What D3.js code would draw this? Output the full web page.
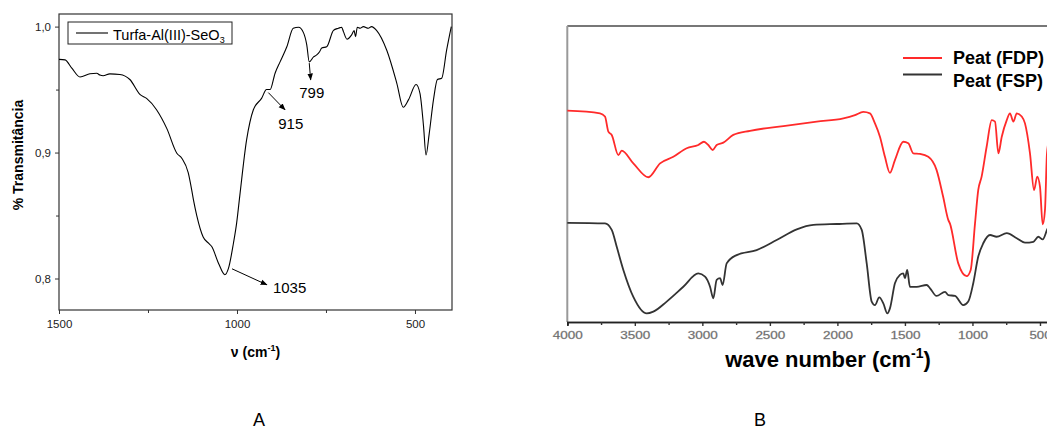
<!DOCTYPE html>
<html>
<head>
<meta charset="utf-8">
<script src="https://cdn.jsdelivr.net/npm/d3@7"></script>
<style>
  body { margin: 0; background: #fff; }
  svg { display: block; font-family: "Liberation Sans", Arial, sans-serif; }
</style>
</head>
<body>
<svg id="chart" width="1047" height="432"></svg>
<script>
// panel A : Turfa-Al(III)-SeO3
let wnA = [1500, 1483, 1464, 1441, 1413, 1394, 1385, 1376, 1357, 1329, 1301, 1272, 1254, 1226, 1197,
  1169, 1155, 1137, 1127, 1122, 1113, 1095, 1080, 1071, 1052, 1034, 1024, 1010, 1001, 992,
  973, 954, 931, 917, 907, 893, 879, 860, 842, 827, 813, 804, 797, 785, 776,
  768, 762, 748, 729, 715, 706, 701, 691, 678, 671, 667, 662, 654, 645, 631,
  622, 608, 579, 551, 533, 518, 497, 486, 476, 469, 460, 448, 437, 425, 411, 398];
let tA = [0.974, 0.9736, 0.967, 0.960, 0.9625, 0.963, 0.9615, 0.961, 0.9625, 0.962, 0.958, 0.946, 0.943, 0.934, 0.919,
  0.8995, 0.8955, 0.884, 0.870, 0.862, 0.850, 0.833, 0.828, 0.8254, 0.8122, 0.803, 0.808, 0.828, 0.844, 0.866,
  0.910, 0.934, 0.943, 0.950, 0.950, 0.963, 0.972, 0.984, 0.9987, 0.9995, 0.995, 0.9855, 0.972, 0.976, 0.9775,
  0.980, 0.983, 0.984, 0.997, 0.9987, 0.9995, 0.996, 0.990, 0.9934, 0.9968, 0.992, 0.9995, 0.9987, 1.0, 0.9987,
  1.0, 0.997, 0.981, 0.955, 0.936, 0.942, 0.954, 0.947, 0.921, 0.898, 0.915, 0.942, 0.958, 0.959, 0.9815, 1.0];
let xTicksA = [1500, 1000, 500];
let xMinorA = [1250, 750];
let yTicksA = [0.8, 0.9, 1.0];
let yMinorA = [0.85, 0.95];
let legendA = "Turfa-Al(III)-SeO";
// peak labels: arrow start, arrow end, text start (wavenumber, T)
let peaksA = [
  {label: "1035", from: [1014, 0.8077], to: [916, 0.795], text: [899, 0.7883]},
  {label: "915", from: [912, 0.9476], to: [865, 0.9339], text: [884, 0.9188]},
  {label: "799", from: [797, 0.971], to: [793, 0.9577], text: [825, 0.9434]}
];

// panel B : Peat FDP / FSP (arbitrary units)
let wnFDP = [4000, 3758, 3721, 3696, 3671, 3622, 3597, 3511, 3400, 3313, 3215, 3116, 3030, 2988, 2956,
  2923, 2894, 2845, 2771, 2647, 2400, 2153, 1956, 1870, 1808, 1759, 1722, 1685, 1648, 1611,
  1574, 1512, 1475, 1438, 1389, 1327, 1266, 1217, 1179, 1167, 1105, 1043, 1013, 981, 957,
  932, 895, 857, 833, 808, 783, 746, 722, 697, 672, 635, 611, 574, 544, 520,
  500, 480, 463, 448, 430];
let vFDP = [71.4, 70.5, 69.4, 64.3, 63.2, 56.4, 57.9, 53.6, 48.9, 53.6, 55.8, 58.7, 59.8, 60.9, 59.8,
  58.1, 59.8, 60.6, 63.2, 64.6, 66.2, 67.7, 68.8, 69.9, 71.0, 70.5, 67.1, 62.6, 55.8, 50.4,
  54.7, 60.9, 60.4, 57.0, 56.8, 55.8, 51.4, 42.3, 34.5, 33.3, 19.8, 15.5, 17.6, 33.3, 44.6,
  49.1, 59.2, 68.2, 67.7, 57.0, 62.6, 68.2, 70.5, 67.7, 70.5, 69.4, 67.1, 57.0, 44.6, 49.1,
  45.7, 33.0, 37.8, 57.0, 62.0];
let wnFSP = [4000, 3721, 3671, 3634, 3585, 3511, 3412, 3363, 3264, 3141, 3030, 2980, 2943, 2919, 2894,
  2869, 2850, 2820, 2746, 2598, 2450, 2301, 2178, 2005, 1857, 1820, 1783, 1746, 1722, 1690,
  1660, 1630, 1611, 1574, 1537, 1512, 1500, 1483, 1463, 1413, 1339, 1314, 1266, 1203, 1179,
  1129, 1068, 1031, 994, 957, 920, 870, 821, 746, 672, 611, 549, 512, 480, 448, 430];
let vFSP = [33.5, 33.3, 31.1, 25.4, 17.6, 8.5, 2.9, 3.5, 6.9, 11.9, 16.4, 15.3, 11.9, 8.0, 14.2,
  14.8, 12.5, 19.8, 22.6, 24.3, 27.7, 31.3, 32.8, 33.1, 33.3, 31.1, 19.8, 6.9, 5.7, 8.3,
  6.3, 2.9, 4.6, 13.1, 15.9, 16.4, 14.8, 17.6, 11.9, 11.9, 12.5, 11.4, 8.8, 10.2, 9.1,
  8.8, 5.7, 6.9, 13.1, 22.1, 26.6, 29.4, 28.8, 30.0, 28.3, 26.8, 27.1, 28.8, 27.9, 31.1, 33.0];
let xTicksB = [4000, 3500, 3000, 2500, 2000, 1500, 1000, 500];
let xMinorB = [3750, 3250, 2750, 2250, 1750, 1250, 750];
let seriesB = ["Peat (FDP)", "Peat (FSP)"];
let colorsB = ["#ff2a2a", "#333333"];

const svg = d3.select("svg#chart");

// arrow head
svg.append("defs").append("marker")
  .attr("id", "arrow")
  .attr("viewBox", "0 0 10 10")
  .attr("refX", 9).attr("refY", 5)
  .attr("markerWidth", 7).attr("markerHeight", 7)
  .attr("markerUnits", "userSpaceOnUse")
  .attr("orient", "auto")
  .append("path").attr("d", "M0,1 L10,5 L0,9 Z").attr("fill", "#000");

// ---------- A ----------
let xA = d3.scaleLinear().domain([1500, 396]).range([59, 452]);
let yA = d3.scaleLinear().domain([0.775, 1.01]).range([310, 14]);
let gA = svg.append("g");

gA.append("rect")
  .attr("x", xA.range()[0]).attr("y", yA.range()[1])
  .attr("width", xA.range()[1] - xA.range()[0])
  .attr("height", yA.range()[0] - yA.range()[1])
  .attr("fill", "none").attr("stroke", "#333").attr("stroke-width", 1.2);

gA.append("g").attr("transform", "translate(0," + yA.range()[0] + ")")
  .call(d3.axisBottom(xA).tickValues(xTicksA).tickSize(4).tickPadding(6).tickFormat(d3.format("d")));
gA.append("g").attr("transform", "translate(0," + yA.range()[0] + ")")
  .call(d3.axisBottom(xA).tickValues(xMinorA).tickSize(3).tickFormat(""));
gA.append("g").attr("transform", "translate(" + xA.range()[0] + ",0)")
  .call(d3.axisLeft(yA).tickValues(yTicksA).tickSize(4).tickPadding(4)
    .tickFormat(d => d3.format(".1f")(d).replace(".", ",")));
gA.append("g").attr("transform", "translate(" + xA.range()[0] + ",0)")
  .call(d3.axisLeft(yA).tickValues(yMinorA).tickSize(3).tickFormat(""));
gA.selectAll(".domain").remove();
gA.selectAll(".tick line").attr("stroke", "#333");
gA.selectAll(".tick text").attr("font-size", 11.5).attr("fill", "#222")
  .attr("font-family", "Liberation Sans, Arial, sans-serif");

gA.append("path")
  .datum(d3.zip(wnA, tA))
  .attr("fill", "none").attr("stroke", "#000").attr("stroke-width", 1.1)
  .attr("d", d3.line().x(d => xA(d[0])).y(d => yA(d[1])).curve(d3.curveMonotoneX));

gA.append("text")
  .attr("transform", "translate(23,155) rotate(-90)")
  .attr("text-anchor", "middle").attr("font-size", 14).attr("font-weight", "bold")
  .text("% Transmitância");

let xlabA = gA.append("text")
  .attr("x", (xA.range()[0] + xA.range()[1]) / 2).attr("y", 357)
  .attr("text-anchor", "middle").attr("font-size", 14).attr("font-weight", "bold");
xlabA.append("tspan").text("ν (cm");
xlabA.append("tspan").attr("font-size", 9).attr("dy", -6).text("-1");
xlabA.append("tspan").attr("dy", 6).text(")");

// legend A
gA.append("rect").attr("x", 68).attr("y", 22).attr("width", 164).attr("height", 22)
  .attr("fill", "#fff").attr("stroke", "#222").attr("stroke-width", 1);
gA.append("line").attr("x1", 76).attr("x2", 108).attr("y1", 33).attr("y2", 33)
  .attr("stroke", "#000").attr("stroke-width", 1.1);
let legTxt = gA.append("text").attr("x", 113).attr("y", 39.5).attr("font-size", 14.5);
legTxt.append("tspan").text(legendA);
legTxt.append("tspan").attr("font-size", 9).attr("dy", 3).text("3");

// peak labels
peaksA.forEach(p => {
  gA.append("line")
    .attr("x1", xA(p.from[0])).attr("y1", yA(p.from[1]))
    .attr("x2", xA(p.to[0])).attr("y2", yA(p.to[1]))
    .attr("stroke", "#000").attr("stroke-width", 1)
    .attr("marker-end", "url(#arrow)");
  gA.append("text")
    .attr("x", xA(p.text[0])).attr("y", yA(p.text[1]))
    .attr("font-size", 15).text(p.label);
});

// ---------- B ----------
let xB = d3.scaleLinear().domain([4000, 400]).range([567.3, 567.3 + 3600 * 0.13505]);
let yB = d3.scaleLinear().domain([0, 100]).range([322, 26]);
let gB = svg.append("g");

gB.append("line")
  .attr("x1", xB.range()[0]).attr("x2", 1047)
  .attr("y1", yB.range()[1]).attr("y2", yB.range()[1])
  .attr("stroke", "#777").attr("stroke-width", 2);
gB.append("line")
  .attr("x1", xB.range()[0]).attr("x2", xB.range()[0])
  .attr("y1", yB.range()[1]).attr("y2", yB.range()[0])
  .attr("stroke", "#999").attr("stroke-width", 2);

gB.append("g").attr("transform", "translate(0," + yB.range()[0] + ")")
  .call(d3.axisBottom(xB).tickValues(xTicksB).tickSize(4).tickPadding(6).tickFormat(d3.format("d")));
gB.append("g").attr("transform", "translate(0," + yB.range()[0] + ")")
  .call(d3.axisBottom(xB).tickValues(xMinorB).tickSize(3).tickFormat(""));
gB.selectAll(".domain").attr("stroke", "#222").attr("stroke-width", 1.6);
gB.selectAll(".tick line").attr("stroke", "#333").attr("stroke-width", 1.4);
gB.selectAll(".tick text")
  .attr("font-size", 10).attr("fill", "#555").attr("stroke", "#999").attr("stroke-width", 0.3)
  .attr("font-family", "Liberation Sans, Arial, sans-serif")
  .attr("textLength", d => d >= 1000 ? 30 : 22).attr("lengthAdjust", "spacingAndGlyphs");

let lineB = d3.line().x(d => xB(d[0])).y(d => yB(d[1])).curve(d3.curveMonotoneX);
[d3.zip(wnFSP, vFSP), d3.zip(wnFDP, vFDP)].forEach((data, i) => {
  gB.append("path")
    .datum(data)
    .attr("fill", "none")
    .attr("stroke", i == 0 ? colorsB[1] : colorsB[0])
    .attr("stroke-width", 1.8)
    .attr("d", lineB);
});

let xlabB = gB.append("text")
  .attr("x", 828).attr("y", 367)
  .attr("text-anchor", "middle").attr("font-size", 22).attr("font-weight", "bold");
xlabB.append("tspan").text("wave number (cm");
xlabB.append("tspan").attr("font-size", 14).attr("dy", -9).text("-1");
xlabB.append("tspan").attr("dy", 9).text(")");

// legend B
seriesB.forEach((s, i) => {
  gB.append("line")
    .attr("x1", 903).attr("x2", 942)
    .attr("y1", 58 + i * 16.5).attr("y2", 58 + i * 16.5)
    .attr("stroke", colorsB[i]).attr("stroke-width", 2);
  gB.append("text")
    .attr("x", 953).attr("y", 64 + i * 23)
    .attr("font-size", 18).attr("font-weight", "bold").attr("fill", "#000")
    .text(s);
});

// panel letters
svg.append("text").attr("x", 259).attr("y", 426).attr("text-anchor", "middle")
  .attr("font-size", 18).text("A");
svg.append("text").attr("x", 760).attr("y", 426).attr("text-anchor", "middle")
  .attr("font-size", 18).text("B");
</script>
</body>
</html>
